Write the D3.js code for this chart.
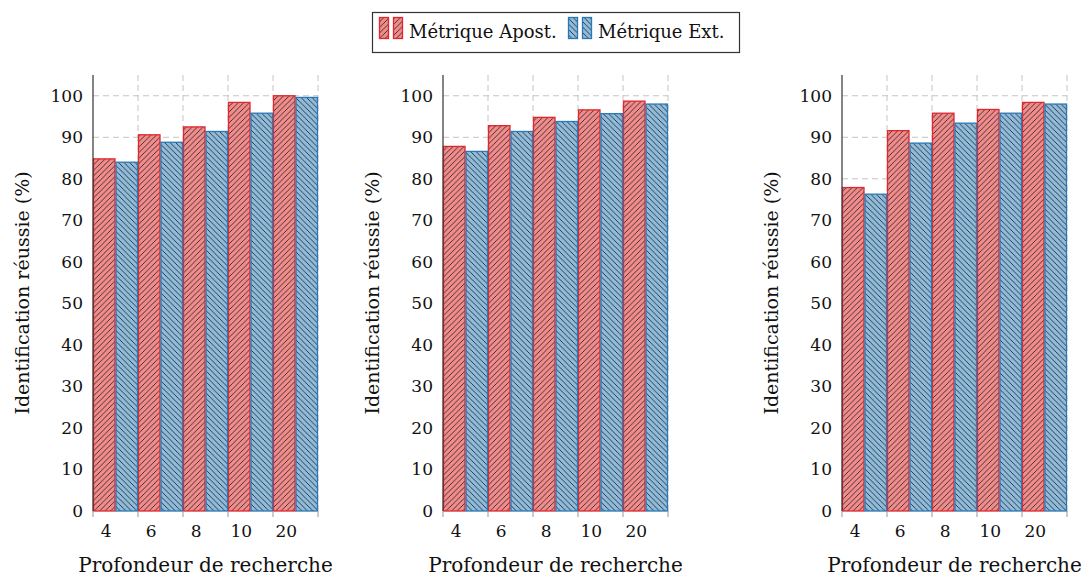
<!DOCTYPE html>
<html><head><meta charset="utf-8">
<script src="https://cdn.jsdelivr.net/npm/d3@7/dist/d3.min.js"></script>
<style>
body{margin:0;background:#fff;}
text{font-family:"DejaVu Serif",serif;fill:#111;}
</style></head>
<body><svg id="c" width="1085" height="579"></svg>
<script>
const categories = ["4","6","8","10","20"];
const seriesNames = ["Métrique Apost.","Métrique Ext."];
const chart1Apost = [84.8, 90.6, 92.5, 98.4, 100.0];
const chart1Ext   = [84.0, 88.8, 91.4, 95.8, 99.6];
const chart2Apost = [87.8, 92.8, 94.8, 96.6, 98.7];
const chart2Ext   = [86.6, 91.4, 93.8, 95.7, 98.0];
const chart3Apost = [77.9, 91.6, 95.8, 96.7, 98.4];
const chart3Ext   = [76.3, 88.6, 93.4, 95.8, 98.0];
const yTicks = [0,10,20,30,40,50,60,70,80,90,100];
const yLabel = "Identification réussie (%)";
const xLabel = "Profondeur de recherche";

const charts = [
  {apost: chart1Apost, ext: chart1Ext, left: 93},
  {apost: chart2Apost, ext: chart2Ext, left: 443},
  {apost: chart3Apost, ext: chart3Ext, left: 842}
];
const plotW = 225, plotTop = 75, plotBottom = 511;
const colors = [
  {fill:"#f28c8c", stroke:"#e3262b"},
  {fill:"#8fbcdc", stroke:"#2a78b6"}
];

const svg = d3.select("#c");
const defs = svg.append("defs");
function mkPattern(id, fill, dir){
  const s = 5.5;
  const p = defs.append("pattern").attr("id", id).attr("patternUnits","userSpaceOnUse")
    .attr("width",s).attr("height",s);
  p.append("rect").attr("width",s).attr("height",s).attr("fill",fill);
  const d = dir > 0
    ? `M-1,1 L1,-1 M0,${s} L${s},0 M${s-1},${s+1} L${s+1},${s-1}`
    : `M-1,${s-1} L1,${s+1} M0,0 L${s},${s} M${s-1},-1 L${s+1},1`;
  p.append("path").attr("d", d).attr("stroke","#1a1a1a").attr("stroke-width",0.8);
}
mkPattern("hatchRed", colors[0].fill, 1);
mkPattern("hatchBlue", colors[1].fill, -1);
const patterns = ["url(#hatchRed)","url(#hatchBlue)"];

const y = d3.scaleLinear().domain([0,105]).range([plotBottom, plotTop]);

charts.forEach(ch => {
  const x = d3.scaleBand().domain(categories).range([ch.left, ch.left+plotW]).padding(0);
  const xs = d3.scaleBand().domain([0,1]).range([0, x.bandwidth()]).padding(0);
  const g = svg.append("g");
  g.selectAll(".hg").data(yTicks.filter(d=>d>0)).join("line")
    .attr("x1", ch.left).attr("x2", ch.left+plotW)
    .attr("y1", d=>y(d)).attr("y2", d=>y(d))
    .attr("stroke","#c4c4c4").attr("stroke-width",1).attr("stroke-dasharray","6,4");
  const bounds = categories.map(c=>x(c)).concat([ch.left+plotW]);
  g.selectAll(".vg").data(bounds.slice(1)).join("line")
    .attr("x1", d=>d).attr("x2", d=>d).attr("y1", plotTop).attr("y2", plotBottom)
    .attr("stroke","#c4c4c4").attr("stroke-width",1).attr("stroke-dasharray","6,4");
  [ch.apost, ch.ext].forEach((vals, si) => {
    g.selectAll(".b"+si).data(vals).join("rect")
      .attr("x", (d,i)=>x(categories[i]) + xs(si) + 0.5)
      .attr("width", xs.bandwidth() - 1)
      .attr("y", d=>y(d))
      .attr("height", d=>plotBottom - y(d))
      .attr("fill", patterns[si])
      .attr("stroke", colors[si].stroke).attr("stroke-width",1.3);
  });
  g.selectAll(".xt").data(bounds).join("line")
    .attr("x1", d=>d).attr("x2", d=>d).attr("y1", plotBottom).attr("y2", plotBottom+6)
    .attr("stroke","#999").attr("stroke-width",1);
  g.selectAll(".xl").data(categories).join("text")
    .attr("x", c=>x(c) + xs(0) + xs.bandwidth()/2 + 2)
    .attr("y", 537).attr("text-anchor","middle").attr("font-size",17).text(c=>c);
  const yAxis = d3.axisLeft(y).tickValues(yTicks).tickSize(0).tickPadding(10);
  const ya = g.append("g").attr("transform",`translate(${ch.left},0)`).call(yAxis);
  ya.select(".domain").remove();
  ya.selectAll("text").attr("font-size",17).attr("font-family","DejaVu Serif").attr("fill","#111");
  g.append("line").attr("x1",ch.left).attr("x2",ch.left).attr("y1",plotTop).attr("y2",plotBottom)
    .attr("stroke","#333").attr("stroke-width",1.2);
  g.append("text").attr("transform",`translate(${ch.left-71},${(plotTop+plotBottom)/2}) rotate(-90)`)
    .attr("text-anchor","middle").attr("dominant-baseline","central").attr("font-size",19).text(yLabel);
  g.append("text").attr("x", ch.left+plotW/2).attr("y", 572)
    .attr("text-anchor","middle").attr("font-size",20).text(xLabel);
});

const lg = svg.append("g");
lg.append("rect").attr("x",372.5).attr("y",12.5).attr("width",367).attr("height",40)
  .attr("fill","#fff").attr("stroke","#333").attr("stroke-width",1.2);
const legX = [379, 568];
seriesNames.forEach((name, si) => {
  [0, 14].forEach(off => {
    lg.append("rect").attr("x", legX[si]+off+0.5).attr("y",17.5).attr("width",9).attr("height",21)
      .attr("fill", patterns[si]).attr("stroke", colors[si].stroke).attr("stroke-width",1.3);
  });
  lg.append("text").attr("x", legX[si]+30).attr("y",38).attr("font-size",18).text(name);
});
</script></body></html>
